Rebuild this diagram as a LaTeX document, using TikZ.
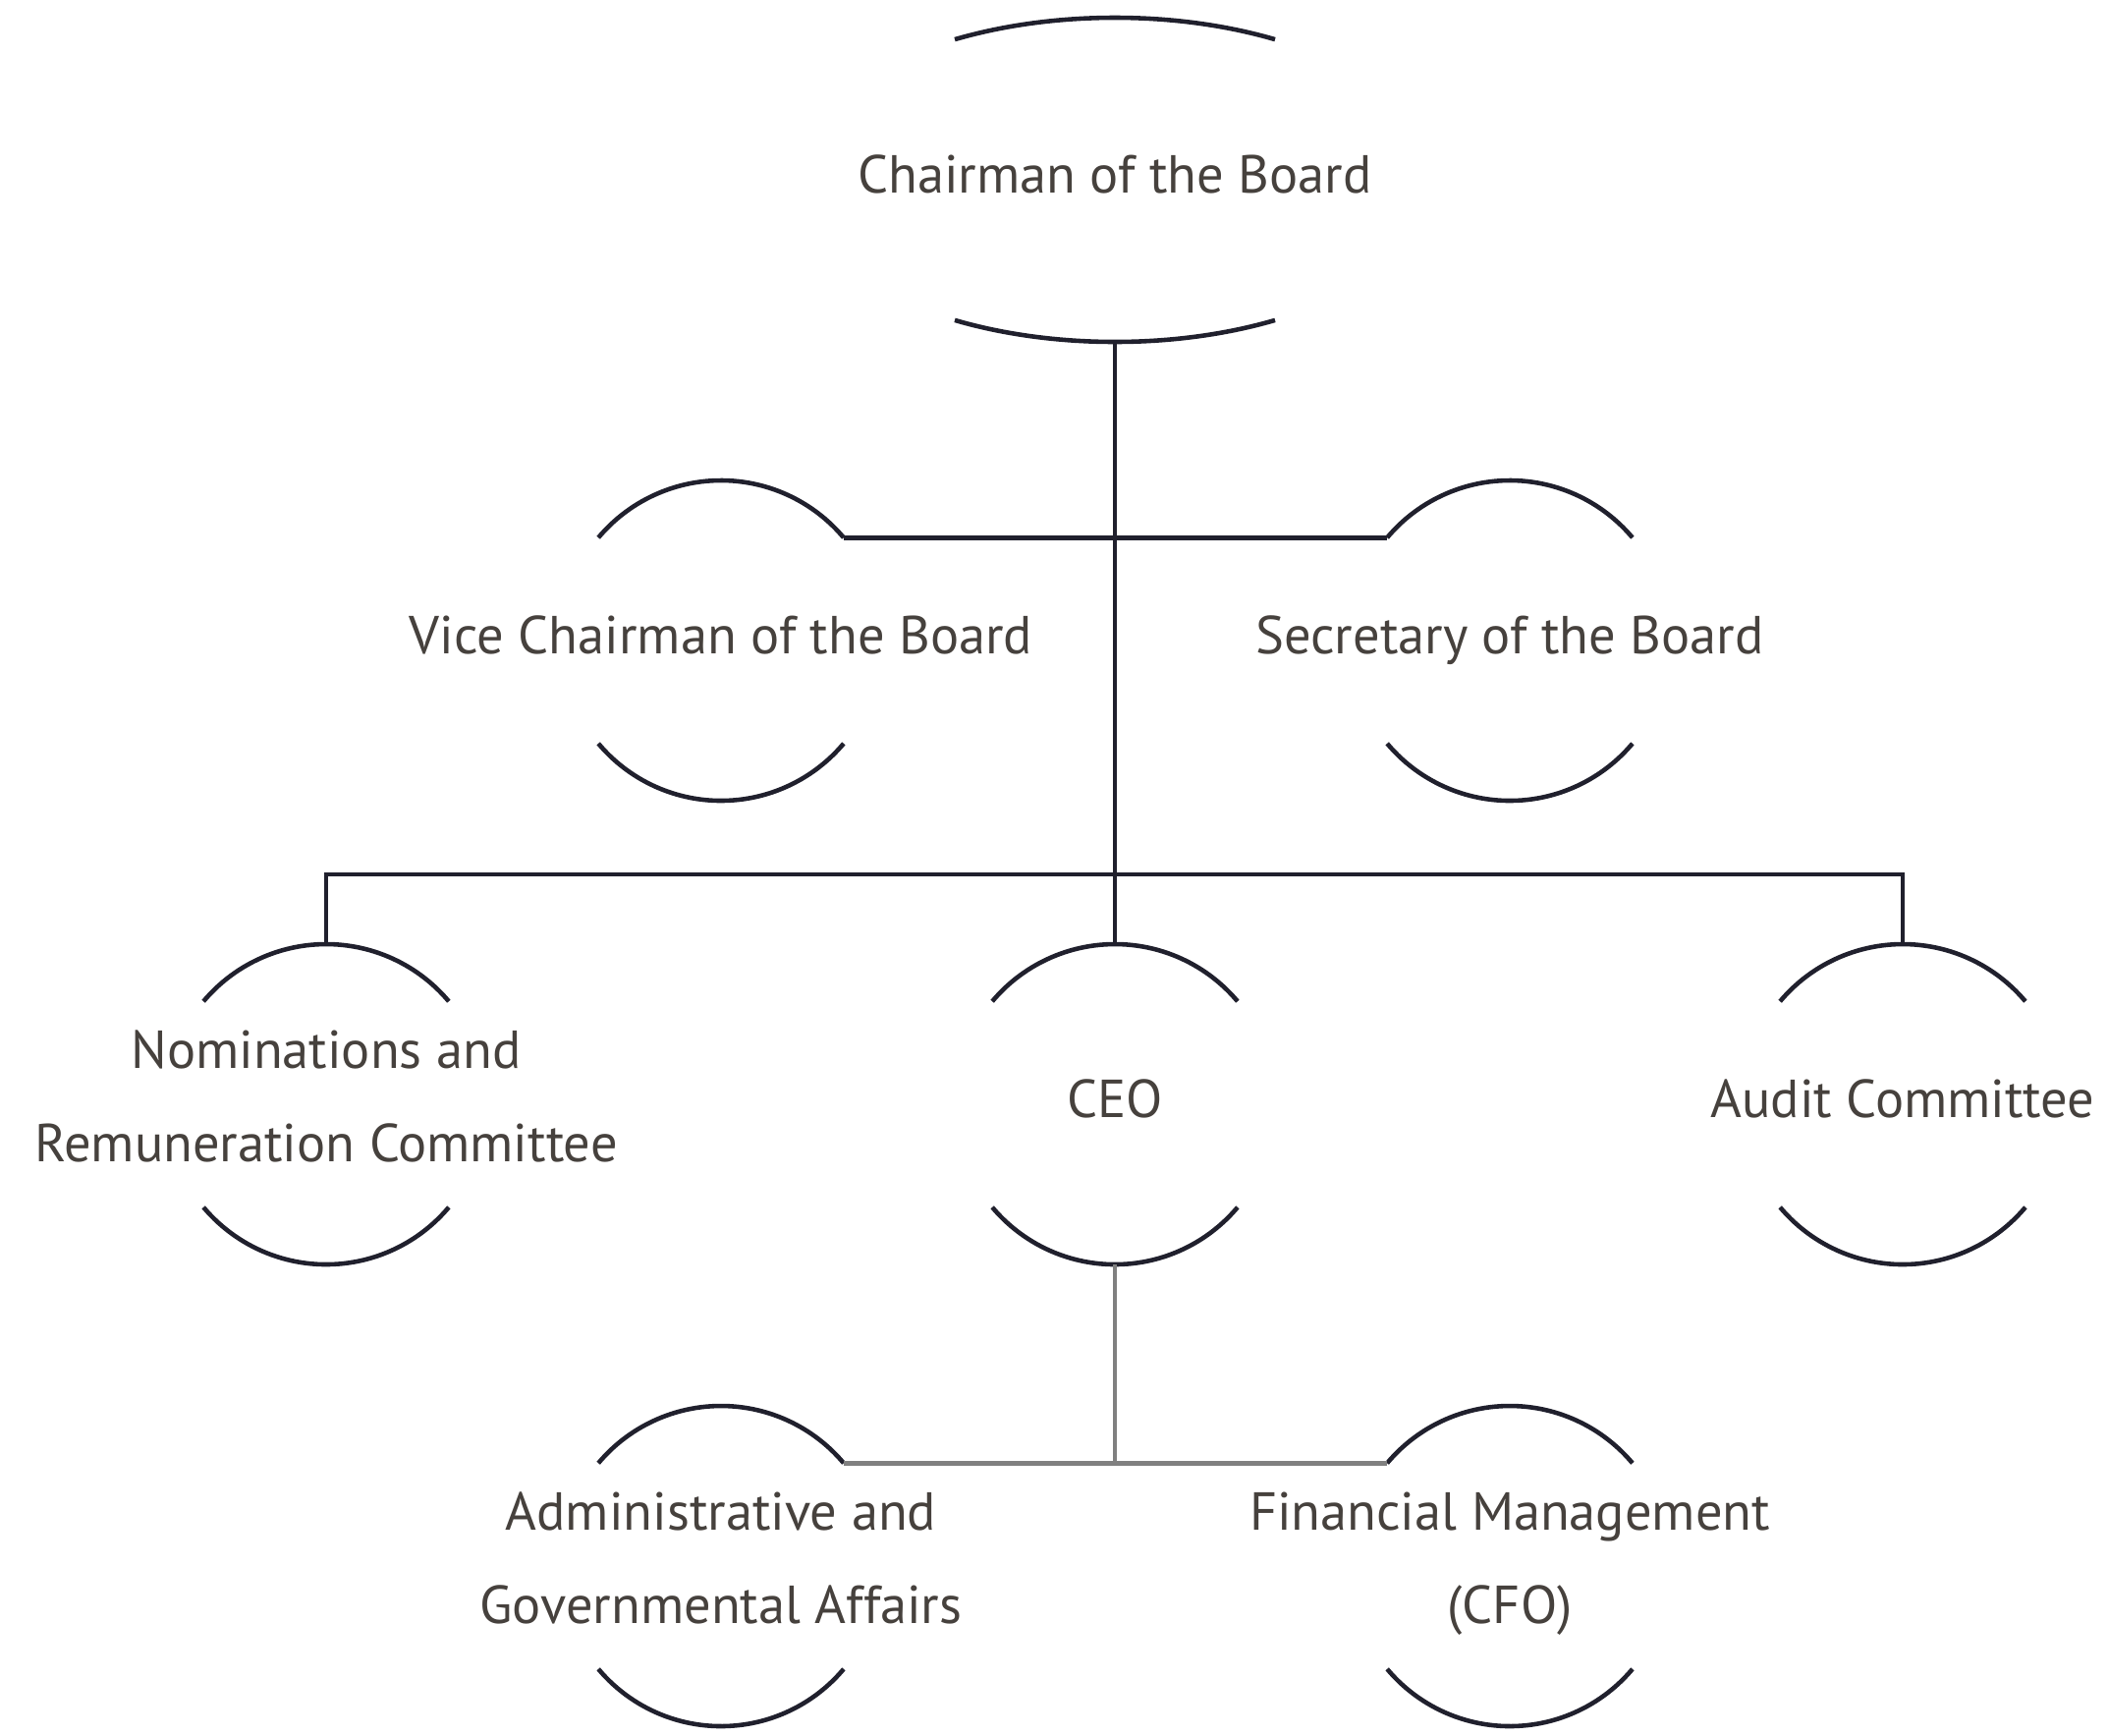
\documentclass[tikz,border=0pt]{standalone}
\usepackage{fontspec}
\setmainfont{PT Sans}
\usepackage{tikz}
\usetikzlibrary{positioning}

\definecolor{inkline}{HTML}{20202D}
\definecolor{inktext}{HTML}{46413D}
\definecolor{subline}{HTML}{808080}

\begin{document}
\begin{tikzpicture}[
  unit/.style={circle, minimum size=3.26cm, inner sep=0pt, outer sep=0pt},
  txt/.style={text=inktext, align=center, font=\fontsize{15.5}{26.9}\selectfont,
    execute at begin node=\strut, execute at end node=\strut, yshift=0.05cm},
  txttwo/.style={txt, yshift=-0.11cm},
  capline/.style={inkline, line width=1.3pt},
  link/.style={inkline, line width=1.3pt},
  sublink/.style={subline, line width=1.3pt}]
\useasboundingbox (0,0) rectangle (21.46,-17.66);
% top
\node [minimum width=6.52cm, minimum height=3.3cm, inner sep=0pt, outer sep=0pt,
  label={[txt]center:Chairman of the Board}] (chair) at (11.35,-1.83) {};
% second row
\node [unit, label={[txt]center:Vice Chairman of the Board}] (vice) at (7.34,-6.52) {};
\node [unit, label={[txt]center:Secretary of the Board}] (sec) at (15.37,-6.52) {};
% third row
\node [unit, label={[txttwo]center:Nominations and\\Remuneration Committee}] (nom) at (3.32,-11.24) {};
\node [unit, label={[txt]center:CEO}] (ceo) at (11.35,-11.24) {};
\node [unit, label={[txt]center:Audit Committee}] (aud) at (19.37,-11.24) {};
% fourth row
\node [unit, label={[txttwo]center:Administrative and\\Governmental Affairs}] (adm) at (7.34,-15.94) {};
\node [unit, label={[txttwo]center:Financial Management\\(CFO)}] (fin) at (15.37,-15.94) {};
\coordinate (bus) at (11.35,-8.90);

% caps
\draw [capline] (chair.center) ++(120:3.26 and 1.65) arc (120:60:3.26 and 1.65);
\draw [capline] (chair.center) ++(240:3.26 and 1.65) arc (240:300:3.26 and 1.65);
\foreach \n in {vice,sec,nom,ceo,aud,adm,fin} {
  \draw [capline] (\n.140) arc (140:40:1.63);
  \draw [capline] (\n.220) arc (220:320:1.63);
}

% links
\draw [link] (chair.south) -- (ceo.north);
\draw [link] (vice.40) -- (sec.140);
\draw [link] (nom.north) |- (bus) -| (aud.north);
\draw [sublink] (ceo.south) -- (ceo.south |- adm.40);
\draw [sublink] (adm.40) -- (fin.140);
\end{tikzpicture}
\end{document}
